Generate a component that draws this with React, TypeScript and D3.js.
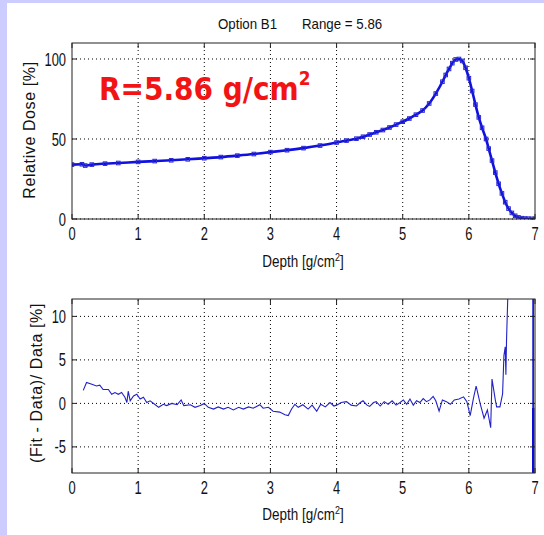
import React from "react";
import * as d3 from "d3";

const W = 544;
const H = 535;

// Top panel: relative dose vs depth
const doseDepth = [0, 0.15, 0.2, 0.3, 0.5, 0.7, 1, 1.25, 1.5, 1.75, 2, 2.25, 2.5, 2.75, 3, 3.25, 3.5, 3.75, 4, 4.15, 4.3, 4.4, 4.5, 4.6, 4.7, 4.8, 4.9, 5, 5.1, 5.2, 5.3, 5.4, 5.5, 5.6, 5.65, 5.7, 5.75, 5.8, 5.85, 5.9, 5.95, 6.0, 6.05, 6.1, 6.15, 6.2, 6.26, 6.3, 6.35, 6.4, 6.45, 6.5, 6.55, 6.6, 6.65, 6.7, 6.75, 6.8, 6.85, 6.9, 6.95, 7.0];
const doseValue = [34, 34.2, 33.4, 34.0, 34.6, 35.0, 35.7, 36.2, 36.7, 37.3, 38.0, 38.7, 39.6, 40.6, 41.8, 43.0, 44.3, 45.9, 47.8, 49.0, 50.2, 51.4, 52.8, 54.2, 55.6, 57.2, 59.0, 60.8, 62.8, 65.2, 67.8, 72.2, 78.4, 85.8, 90.0, 93.8, 97.4, 99.7, 100, 98.8, 94.5, 88.0, 80.0, 71.5, 63.5, 57.0, 50.0, 44.0, 36.5, 29.0, 22.0, 16.0, 10.5, 6.5, 3.8, 2.0, 1.0, 0.5, 0.3, 0.2, 0.1, 0.1];

// Bottom panel: (Fit - Data)/Data [%]
const resDepth = [0.17, 0.22, 0.30, 0.37, 0.42, 0.47, 0.55, 0.60, 0.65, 0.70, 0.75, 0.80, 0.83, 0.85, 0.88, 0.93, 0.98, 1.03, 1.08, 1.13, 1.18, 1.25, 1.31, 1.38, 1.43, 1.51, 1.59, 1.65, 1.69, 1.79, 1.86, 1.94, 2.0, 2.06, 2.14, 2.21, 2.29, 2.36, 2.44, 2.52, 2.59, 2.67, 2.74, 2.84, 2.89, 2.97, 3.04, 3.14, 3.22, 3.27, 3.32, 3.37, 3.42, 3.49, 3.57, 3.63, 3.70, 3.76, 3.83, 3.90, 3.96, 4.0, 4.07, 4.15, 4.22, 4.30, 4.36, 4.40, 4.46, 4.50, 4.56, 4.60, 4.66, 4.72, 4.78, 4.84, 4.90, 4.96, 5.01, 5.06, 5.11, 5.16, 5.21, 5.26, 5.31, 5.36, 5.41, 5.46, 5.50, 5.55, 5.60, 5.66, 5.72, 5.78, 5.85, 5.92, 5.97, 6.02, 6.07, 6.11, 6.17, 6.23, 6.28, 6.33, 6.35, 6.40, 6.42, 6.47, 6.51, 6.53, 6.55, 6.56, 6.57, 6.59, 6.62, 6.972, 6.973, 6.974];
const resValue = [1.5, 2.4, 2.2, 2.0, 2.1, 1.6, 1.6, 1.05, 1.25, 1.05, 1.25, 0.7, 0.1, 1.4, 0.3, 0.85, 1.05, 0.5, 0.7, 0.1, 0.3, -0.1, -0.45, -0.1, -0.25, 0, -0.15, 0.4, -0.25, -0.15, -0.45, -0.25, 0, -0.45, -0.65, -0.4, -0.65, -0.45, -0.75, -0.45, -0.65, -0.4, -0.55, -0.15, -0.55, -0.45, -0.9, -1.0, -1.3, -1.4, -0.65, -0.1, -0.45, -0.15, -0.65, -0.2, -0.9, -0.1, -0.4, 0.1, -0.3, -0.2, 0.1, 0.2, -0.2, -0.3, 0.1, 0.3, -0.2, -0.35, 0.1, 0.2, -0.3, 0.2, -0.1, 0.3, -0.2, 0.1, 0.4, -0.1, 0.5, -0.2, 0.3, 0.1, 0.55, 0.2, 0.4, 0.8, 0.3, -0.9, 0.4, 0.2, -0.1, 0.4, 0.5, 0.75, 0.2, -1.4, 0.6, 2.0, 0, -1.7, -0.75, -2.8, 2.8, 0.4, -0.4, -0.4, 1.1, 5.5, 6.5, 3.3, 7.4, 12.6, 30, 40, -0.5, -30];

const xTicks = [0, 1, 2, 3, 4, 5, 6, 7];
const topYTicks = [0, 50, 100];
const botYTicks = [-5, 0, 5, 10];

const TICK_FONT = "Liberation Sans, Arial, sans-serif";

function T({ x, y, sx = 1, sy = 1, anchor = "start", size, children, fill = "#111", weight = "normal", family = TICK_FONT, rotate = 0, ls = 0 }: any) {
  return (
    <text
      transform={`translate(${x},${y}) rotate(${rotate}) scale(${sx},${sy})`}
      textAnchor={anchor}
      fontSize={size}
      fill={fill}
      fontWeight={weight}
      fontFamily={family}
      letterSpacing={ls}
    >
      {children}
    </text>
  );
}

function Panel({ y, yTicks, clipId, children }: any) {
  const x = d3.scaleLinear().domain([0, 7]).range([72, 535]);
  const [y0, y1] = y.range();
  const tl = 5;
  return (
    <g>
      <rect x={72} y={y1} width={463} height={y0 - y1} fill="#fff" />
      {xTicks.slice(1, -1).map((t) => (
        <line key={"gx" + t} x1={x(t)} x2={x(t)} y1={y0} y2={y1} stroke="#000" strokeWidth={1} strokeDasharray="1,3" />
      ))}
      {yTicks.map((t: number) => (
        <line key={"gy" + t} x1={72} x2={535} y1={y(t)} y2={y(t)} stroke="#000" strokeWidth={1} strokeDasharray="1,3" />
      ))}
      <defs>
        <clipPath id={clipId}>
          <rect x={72} y={y1} width={463} height={y0 - y1} />
        </clipPath>
      </defs>
      <g clipPath={`url(#${clipId})`}>{children}</g>
      <rect x={72} y={y1} width={463} height={y0 - y1} fill="none" stroke="#222" strokeWidth={1} />
      {xTicks.map((t) => (
        <g key={"tx" + t}>
          <line x1={x(t)} x2={x(t)} y1={y0} y2={y0 - tl} stroke="#222" />
          <line x1={x(t)} x2={x(t)} y1={y1} y2={y1 + tl} stroke="#222" />
          <T x={x(t)} y={y0 + 21} size={19} sx={0.68} anchor="middle">{t}</T>
        </g>
      ))}
      {yTicks.map((t: number) => (
        <g key={"ty" + t}>
          <line x1={72} x2={72 + tl} y1={y(t)} y2={y(t)} stroke="#222" />
          <line x1={535} x2={535 - tl} y1={y(t)} y2={y(t)} stroke="#222" />
          <T x={66} y={y(t) + 6.5} size={19} sx={0.68} anchor="end">{t}</T>
        </g>
      ))}
    </g>
  );
}

export default function App() {
  const x = d3.scaleLinear().domain([0, 7]).range([72, 535]);
  const yTop = d3.scaleLinear().domain([0, 110]).range([219, 43]);
  const yBot = d3.scaleLinear().domain([-8, 12]).range([473, 299]);

  const topPts = doseDepth.map((d, i) => [d, doseValue[i]] as [number, number]);
  const topLine = d3
    .line<[number, number]>()
    .x((d) => x(d[0]))
    .y((d) => yTop(d[1]))
    .curve(d3.curveMonotoneX);

  const botPts = resDepth.map((d, i) => [d, resValue[i]] as [number, number]);
  const botLine = d3
    .line<[number, number]>()
    .x((d) => x(d[0]))
    .y((d) => yBot(d[1]));
  const upper = botPts.slice(-3, -1);
  const tail = botPts.slice(-2);

  return (
    <svg width={W} height={H} style={{ position: "absolute", left: 0, top: 0, background: "#fff" }}>
      <rect x={0} y={0} width={W} height={H} fill="#fff" />
      <rect x={0} y={0} width={W} height={3} fill="#ccccff" />
      <rect x={0} y={0} width={7} height={H} fill="#ccccff" />

      <T x={218} y={29} size={14} family="Liberation Sans, Arial, sans-serif" sx={0.95}>Option B1</T>
      <T x={302} y={29} size={14} family="Liberation Sans, Arial, sans-serif" sx={0.95}>Range = 5.86</T>

      <Panel y={yTop} yTicks={topYTicks} clipId="clipTop">
        <path d={topLine(topPts) || ""} fill="none" stroke="#1010e0" strokeWidth={2.6} />
        {topPts.map((p, i) => (
          <rect key={i} x={x(p[0]) - 1.8} y={yTop(p[1]) - 1.8} width={3.6} height={3.6} fill="none" stroke="#2a2ad0" strokeWidth={1} />
        ))}
      </Panel>

      <Panel y={yBot} yTicks={botYTicks} clipId="clipBot">
        <path d={botLine(botPts) || ""} fill="none" stroke="#2222c8" strokeWidth={1.1} />
        <path d={botLine(upper) || ""} fill="none" stroke="#1a1ad8" strokeWidth={1.6} />
        <path d={botLine(tail) || ""} fill="none" stroke="#0c0cd8" strokeWidth={2.4} />
      </Panel>

      <T x={303} y={267} size={15} anchor="middle" sx={0.9} sy={1.05}>
        Depth [g/cm<tspan dy={-6} fontSize={10}>2</tspan><tspan dy={6}>]</tspan>
      </T>
      <T x={303} y={520} size={15} anchor="middle" sx={0.9} sy={1.05}>
        Depth [g/cm<tspan dy={-6} fontSize={10}>2</tspan><tspan dy={6}>]</tspan>
      </T>

      <T x={35} y={130} size={16} anchor="middle" rotate={-90} ls={0.6}>Relative Dose [%]</T>
      <T x={42} y={383} size={16} anchor="middle" rotate={-90} ls={0.6}>(Fit - Data)/ Data [%]</T>

      <T x={99} y={100} size={28} weight="bold" fill="#f21414" family="DejaVu Sans, Verdana, sans-serif" sy={1.15}>
        R=5.86 g/cm<tspan dy={-13} fontSize={17}>2</tspan>
      </T>
    </svg>
  );
}
